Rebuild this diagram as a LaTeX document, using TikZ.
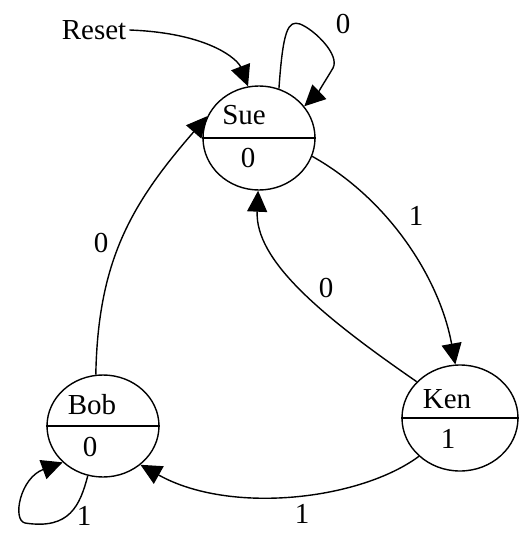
\documentclass[tikz,border=0pt]{standalone}
\usepackage{fontspec}
\setmainfont{Liberation Serif}
\usetikzlibrary{shapes.geometric,arrows.meta}
\begin{document}
\begin{tikzpicture}[x=1pt,y=-1pt,
  state/.style={draw, ellipse, line width=1.4pt, inner sep=0pt},
  lbl/.style={inner sep=0pt, font=\fontsize{29}{34}\selectfont},
  edge/.style={line width=1.4pt, -{Triangle[length=21pt,width=20pt]}},
  divider/.style={line width=1.4pt}]
\useasboundingbox (0,0) rectangle (527,533);
% states
\node[state, minimum width=112pt, minimum height=104pt] (sue) at (259,138) {};
\node[state, minimum width=112pt, minimum height=102pt] (bob) at (103,426) {};
\node[state, minimum width=116pt, minimum height=106pt] (ken) at (460,418) {};
\draw[divider] (sue.west) -- (sue.east);
\draw[divider] (bob.west) -- (bob.east);
\draw[divider] (ken.west) -- (ken.east);
\node[lbl] (suename) at (244,115) {Sue};
\node[lbl] (sueout) at (248,158) {0};
\node[lbl] (bobname) at (92,405) {Bob};
\node[lbl] (bobout) at (90,447) {0};
\node[lbl] (kenname) at (447,399) {Ken};
\node[lbl] (kenout) at (448,439) {1};
% reset
\node[lbl, inner sep=3pt] (reset) at (94,30) {Reset};
\draw[edge] (reset.east) .. controls (210,33) and (238,60) .. (sue.102);
% Sue self loop
\draw[edge] (sue.68) .. controls (283,30) and (288,20) .. (300,24)
   .. controls (315,30) and (340,55) .. (333,68)
   .. controls (326,80) and (316,95) .. (sue.35);
\node[lbl] (l1) at (343,24) {0};
% Sue -> Ken
\draw[edge] (sue.-19) .. controls (390,200) and (440,280) .. (ken.95);
\node[lbl] (l2) at (416,216) {1};
% Ken -> Sue
\draw[edge] (ken.140) .. controls (320,315) and (255,260) .. (sue.-91);
\node[lbl] (l3) at (326,288) {0};
% Bob -> Sue
\draw[edge] (bob.98) .. controls (98,262) and (130,205) .. (sue.157);
\node[lbl] (l4) at (101,243) {0};
% Ken -> Bob
\draw[edge] (ken.223) .. controls (360,500) and (230,515) .. (bob.-46);
\node[lbl] (l5) at (302,514) {1};
% Bob self loop
\draw[edge] (bob.-107) .. controls (80,505) and (70,530) .. (25,523)
   .. controls (12,520) and (20,478) .. (bob.222);
\node[lbl] (l6) at (84,516) {1};
\end{tikzpicture}
\end{document}
